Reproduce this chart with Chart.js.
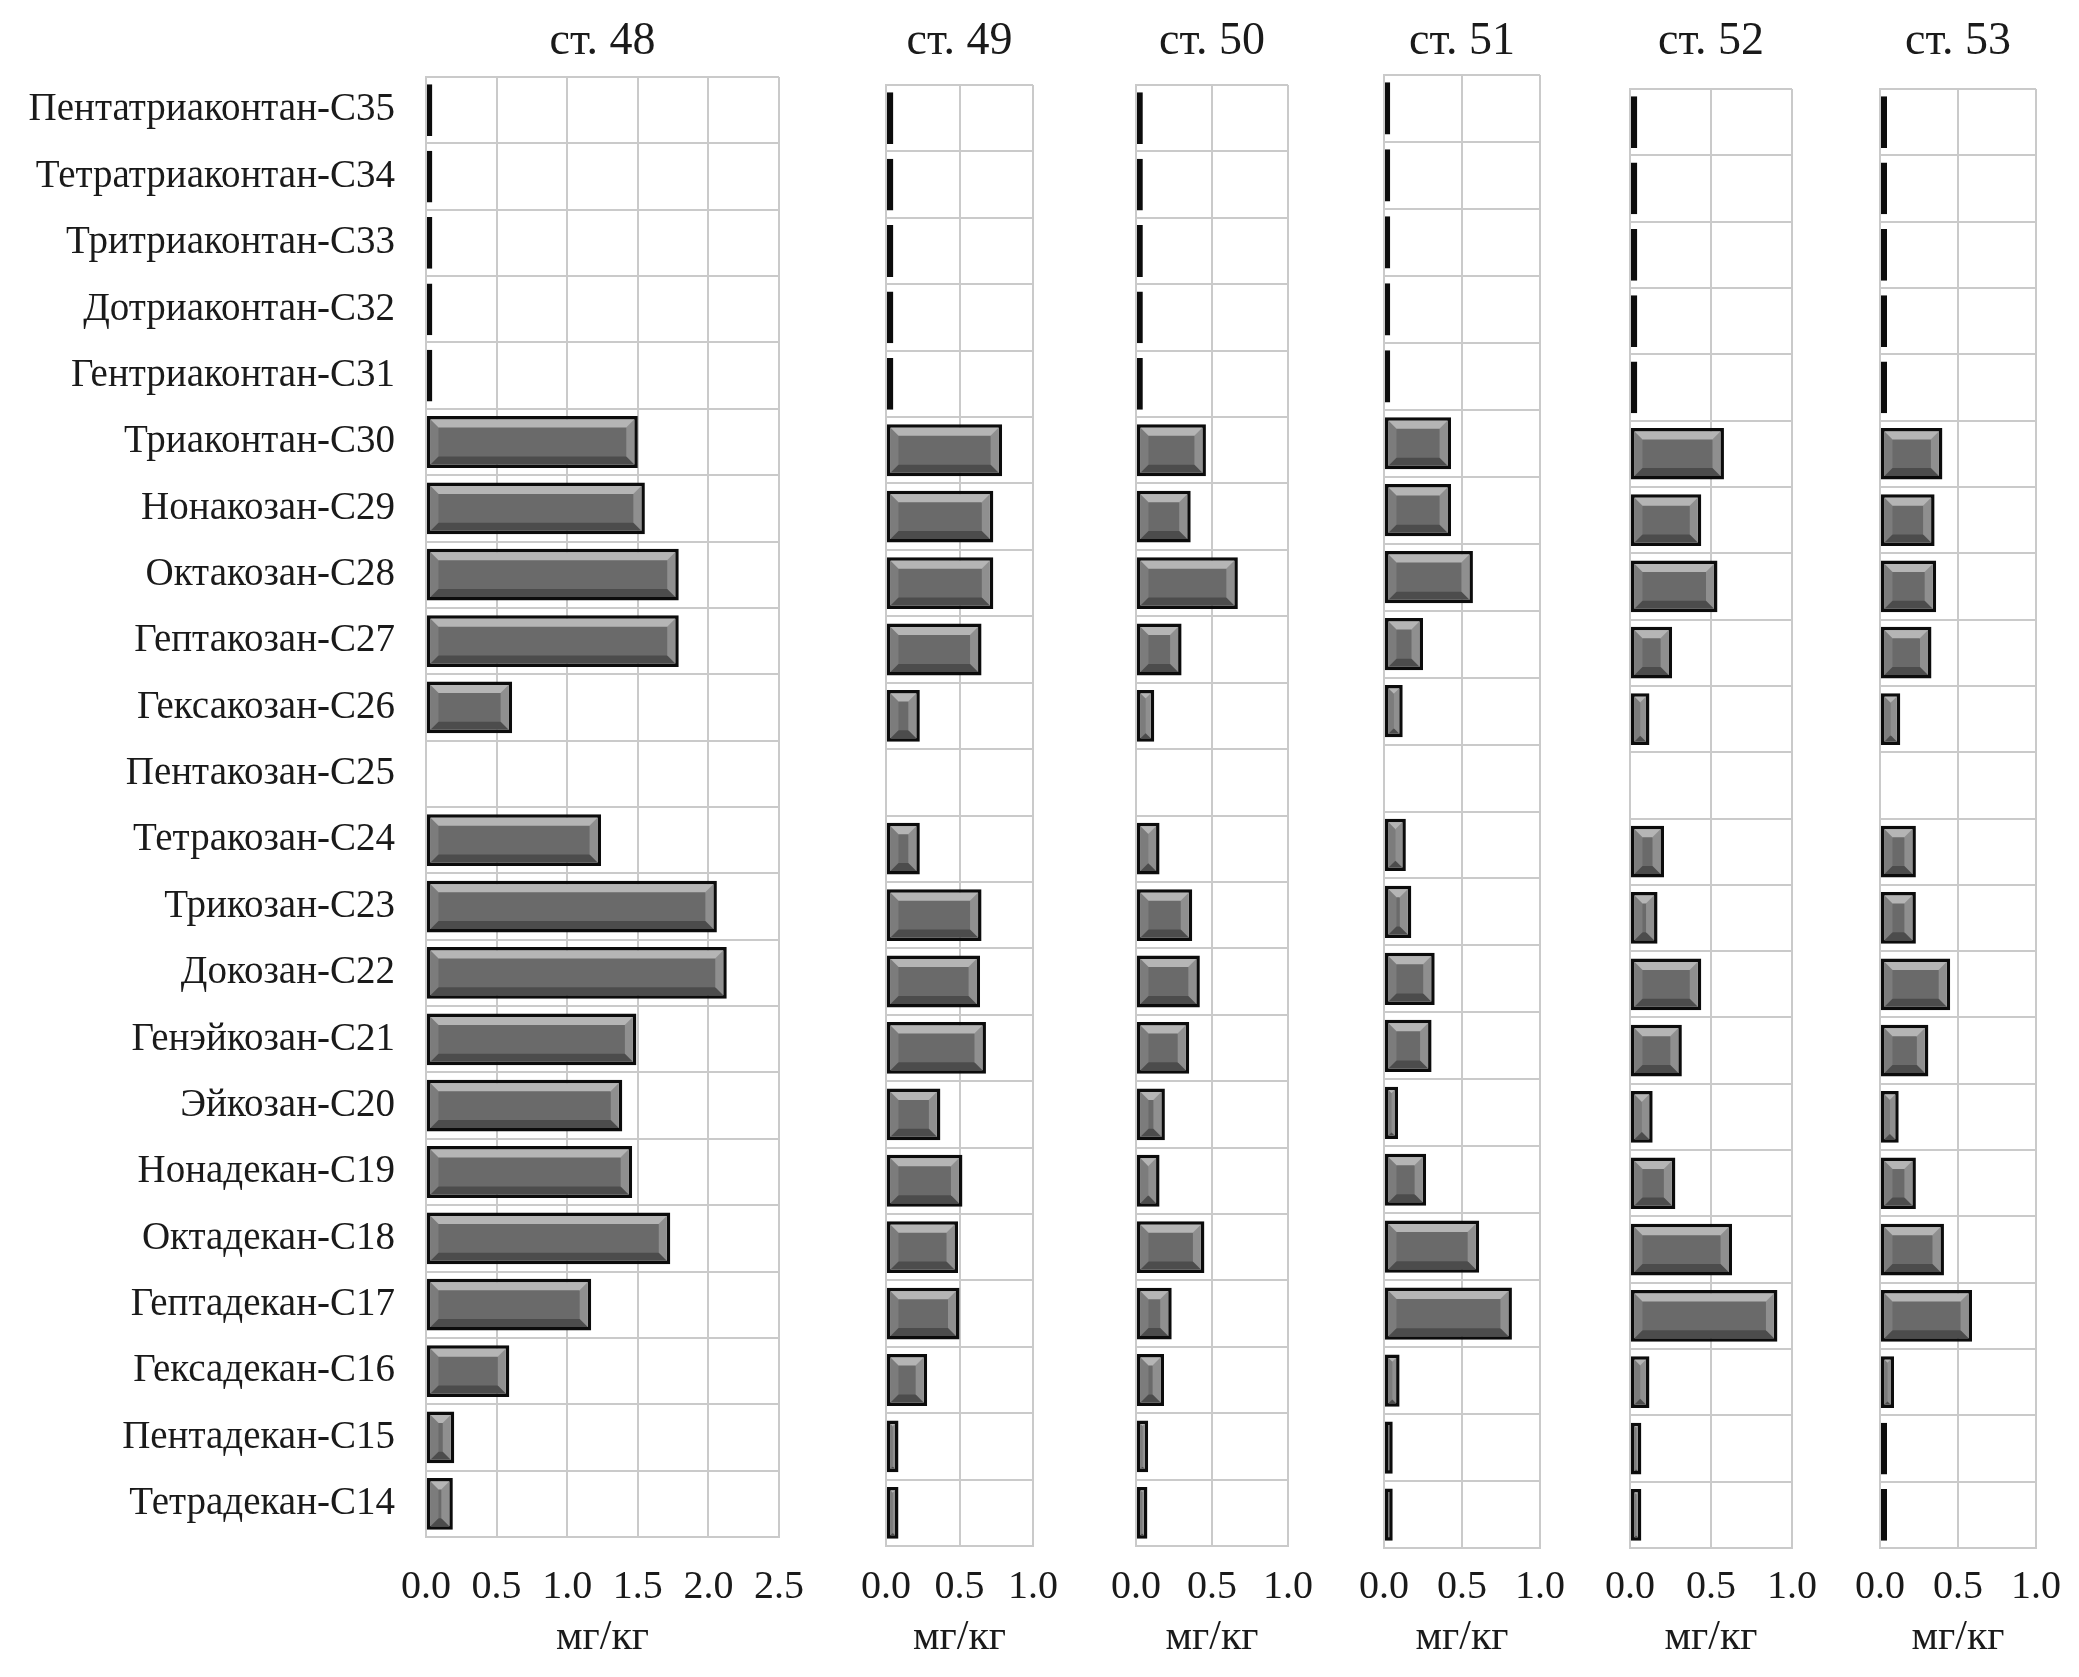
<!DOCTYPE html>
<html>
<head>
<meta charset="utf-8">
<script src="https://cdn.jsdelivr.net/npm/chart.js@4.4.1/dist/chart.umd.min.js"></script>
<style>
  html, body { margin: 0; padding: 0; background: #fff; }
  #wrap { position: relative; width: 2079px; height: 1677px; overflow: hidden; }
  #wrap canvas { position: absolute; top: 0; }
</style>
</head>
<body>
<div id="wrap"></div>
<script>
// alkanes, top row first
const compounds = [
  "Пентатриаконтан-С35", "Тетратриаконтан-С34", "Тритриаконтан-С33", "Дотриаконтан-С32",
  "Гентриаконтан-С31", "Триаконтан-С30", "Нонакозан-С29", "Октакозан-С28",
  "Гептакозан-С27", "Гексакозан-С26", "Пентакозан-С25", "Тетракозан-С24",
  "Трикозан-С23", "Докозан-С22", "Генэйкозан-С21", "Эйкозан-С20",
  "Нонадекан-С19", "Октадекан-С18", "Гептадекан-С17", "Гексадекан-С16",
  "Пентадекан-С15", "Тетрадекан-С14"
];

const stationNames = ["ст. 48", "ст. 49", "ст. 50", "ст. 51", "ст. 52", "ст. 53"];
const axisMax = [2.5, 1.0, 1.0, 1.0, 1.0, 1.0];
const unitLabel = "мг/кг";

// mg/kg, same order as compounds
const st48 = [0.045, 0.045, 0.045, 0.045, 0.045, 1.50, 1.55, 1.79, 1.79, 0.61, null, 1.24, 2.06, 2.13, 1.49, 1.39, 1.46, 1.73, 1.17, 0.59, 0.20, 0.19];
const st49 = [0.05, 0.05, 0.05, 0.05, 0.05, 0.79, 0.73, 0.73, 0.65, 0.23, null, 0.23, 0.65, 0.64, 0.68, 0.37, 0.52, 0.49, 0.50, 0.28, 0.085, 0.085];
const st50 = [0.045, 0.045, 0.045, 0.045, 0.045, 0.46, 0.36, 0.67, 0.30, 0.12, null, 0.155, 0.37, 0.42, 0.35, 0.19, 0.155, 0.45, 0.235, 0.185, 0.08, 0.075];
const st51 = [0.04, 0.04, 0.04, 0.04, 0.04, 0.43, 0.43, 0.57, 0.25, 0.12, null, 0.14, 0.175, 0.325, 0.305, 0.09, 0.27, 0.61, 0.82, 0.10, 0.056, 0.056];
const st52 = [0.045, 0.045, 0.045, 0.045, 0.045, 0.58, 0.44, 0.54, 0.26, 0.12, null, 0.21, 0.17, 0.44, 0.32, 0.14, 0.28, 0.63, 0.91, 0.12, 0.07, 0.07];
const st53 = [0.045, 0.045, 0.045, 0.045, 0.045, 0.40, 0.35, 0.36, 0.33, 0.13, null, 0.23, 0.23, 0.45, 0.31, 0.12, 0.23, 0.41, 0.59, 0.09, 0.045, 0.045];

const series = [st48, st49, st50, st51, st52, st53];

// plot-area boxes in page pixels
const boxes = [
  { left: 426,  right: 780,  top: 77, bottom: 1537 },
  { left: 886,  right: 1033, top: 85, bottom: 1546 },
  { left: 1136, right: 1288, top: 85, bottom: 1546 },
  { left: 1384, right: 1540, top: 75, bottom: 1548 },
  { left: 1630, right: 1792, top: 89, bottom: 1548 },
  { left: 1880, right: 2036, top: 89, bottom: 1548 },
];

const H = 1677;
const FONT = "'Liberation Serif', 'Times New Roman', serif";
const TEXT = "#1a1a1a";
const GRID = "#cacaca";

// excel-like bevel on each bar
const bevel = {
  id: "bevel",
  afterDatasetsDraw(chart) {
    const ctx = chart.ctx;
    const vals = chart.data.datasets[0].data;
    chart.getDatasetMeta(0).data.forEach((bar, i) => {
      if (vals[i] == null) return;
      const { x, y, base, height } = bar.getProps(["x", "y", "base", "height"], true);
      const bw = 3.5;
      const l = Math.min(x, base) + bw, r = Math.max(x, base) - bw;
      const t = y - height / 2 + bw, b = y + height / 2 - bw;
      const w = r - l, h = b - t;
      if (w <= 1 || h <= 1) return;
      const d = Math.min(8, w / 2, h / 2);
      const poly = (pts, fill) => {
        ctx.beginPath();
        ctx.moveTo(pts[0][0], pts[0][1]);
        pts.slice(1).forEach(p => ctx.lineTo(p[0], p[1]));
        ctx.closePath();
        ctx.fillStyle = fill;
        ctx.fill();
      };
      ctx.save();
      poly([[l, t], [r, t], [r - d, t + d], [l + d, t + d]], "rgba(255,255,255,0.5)");
      poly([[l, t], [l + d, t + d], [l + d, b - d], [l, b]], "rgba(255,255,255,0.12)");
      poly([[r, t], [r, b], [r - d, b - d], [r - d, t + d]], "rgba(255,255,255,0.25)");
      poly([[l, b], [l + d, b - d], [r - d, b - d], [r, b]], "rgba(0,0,0,0.28)");
      ctx.restore();
    });
  }
};

const wrap = document.getElementById("wrap");

function makePanel(i) {
  const box = boxes[i];
  const withLabels = i === 0;
  const padL = withLabels ? 0 : 50;
  const padR = 50;
  const canvasLeft = withLabels ? 0 : box.left - padL;
  const width = box.right - canvasLeft + padR;

  const c = document.createElement("canvas");
  c.width = width;
  c.height = H;
  c.style.left = canvasLeft + "px";
  c.style.width = width + "px";
  c.style.height = H + "px";
  wrap.appendChild(c);

  const titleSize = 46, titleTop = 14;
  const tickSize = 40;

  new Chart(c, {
    type: "bar",
    data: {
      labels: compounds,
      datasets: [{
        data: series[i],
        backgroundColor: "#6a6a6a",
        borderColor: "#0c0c0c",
        borderWidth: 3.5,
        borderSkipped: false,
        barPercentage: 0.78,
        categoryPercentage: 1
      }]
    },
    options: {
      indexAxis: "y",
      responsive: false,
      animation: false,
      devicePixelRatio: 1,
      layout: { padding: { left: padL, right: padR, top: 0, bottom: 0 } },
      plugins: {
        legend: { display: false },
        tooltip: { enabled: false },
        title: {
          display: true,
          text: stationNames[i],
          fullSize: false,
          color: TEXT,
          font: { family: FONT, size: titleSize, weight: "normal", lineHeight: 1.2 },
          padding: { top: titleTop, bottom: box.top - titleTop - titleSize * 1.2 }
        }
      },
      scales: {
        x: {
          min: 0,
          max: axisMax[i],
          ticks: {
            stepSize: 0.5,
            callback: v => Number(v).toFixed(1),
            color: TEXT,
            font: { family: FONT, size: tickSize, lineHeight: 1.2 },
            padding: 1587 - tickSize * 0.6 - box.bottom,
            maxRotation: 0
          },
          grid: { color: GRID, lineWidth: 2, drawTicks: false },
          border: { color: GRID, width: 2 },
          title: {
            display: true,
            text: unitLabel,
            color: TEXT,
            font: { family: FONT, size: 42, lineHeight: 1.2 },
            padding: { top: 0, bottom: 14 }
          },
          afterFit: s => { s.height = H - box.bottom; }
        },
        y: {
          ticks: {
            display: withLabels,
            color: TEXT,
            padding: 31,
            font: { family: FONT, size: 39 }
          },
          grid: { color: GRID, lineWidth: 2, drawTicks: false },
          border: { color: GRID, width: 2 },
          afterFit: s => { s.width = withLabels ? box.left : 0; }
        }
      }
    },
    plugins: [bevel]
  });
}

for (let i = 0; i < series.length; i++) makePanel(i);
</script>
</body>
</html>
